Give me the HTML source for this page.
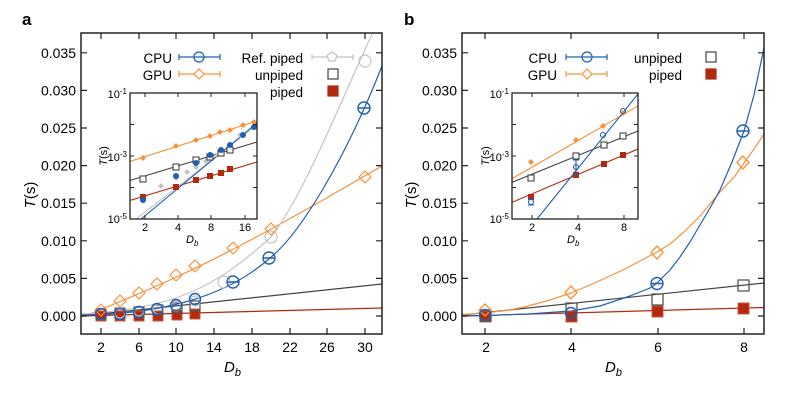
<!DOCTYPE html>
<html><head><meta charset="utf-8"><style>
html,body{margin:0;padding:0;background:#fff;}
svg{display:block;font-family:"Liberation Sans",Arial,sans-serif;}
</style></head><body>
<svg width="792" height="409" viewBox="0 0 792 409" xmlns="http://www.w3.org/2000/svg">
<defs>
<clipPath id="ca"><rect x="81" y="33" width="301" height="301"/></clipPath>
<clipPath id="cb"><rect x="462" y="33" width="302" height="301"/></clipPath>
<clipPath id="cia"><rect x="130" y="93" width="127" height="126"/></clipPath>
<clipPath id="cib"><rect x="512" y="93" width="126" height="126"/></clipPath>
</defs>

<!-- ===== Panel a ===== -->
<text x="22" y="25" font-size="17" font-weight="bold">a</text>
<g clip-path="url(#ca)" fill="none" stroke-width="1.2" stroke-linejoin="round">
  <polyline stroke="#b22a0e" points="81,316 382,308"/>
  <polyline stroke="#444" points="81,316 382,284"/>
  <path stroke="#f7923a" d="M82,317 C150,290 200,268 271,229 C310,208 340,190 382,166"/>
  <path stroke="#c4c4c4" d="M82,314 C170,308 210,292 270,238 C305,195 345,90 375,28"/>
  <path stroke="#1f5fb4" d="M82,315 C160,314 225,298 270,258 C300,234 345,160 382,66"/>
  <g fill="#b22a0e" stroke="#c8583f" stroke-width="1">
    <rect x="96" y="311" width="10" height="10"/><rect x="115" y="311" width="10" height="10"/><rect x="134" y="311" width="10" height="10"/>
    <rect x="153" y="311" width="10" height="10"/><rect x="172" y="310" width="10" height="10"/><rect x="190" y="309" width="10" height="10"/>
  </g>
  <g stroke="#555" stroke-width="1.2">
    <rect x="96" y="309" width="10" height="10"/><rect x="115" y="308" width="10" height="10"/><rect x="134" y="307" width="10" height="10"/>
    <rect x="153" y="305" width="10" height="10"/><rect x="172" y="303" width="10" height="10"/><rect x="190" y="301" width="10" height="10"/>
  </g>
  <g stroke="#c4c4c4" stroke-width="1.2">
    <circle cx="120" cy="313" r="5"/><circle cx="139" cy="311" r="5"/><circle cx="158" cy="309" r="5"/><circle cx="176" cy="306" r="5"/><circle cx="195" cy="301" r="5"/>
    <circle cx="224" cy="282" r="6"/><circle cx="271" cy="237" r="6"/><circle cx="365" cy="61" r="6"/>
  </g>
  <g stroke="#f7923a" stroke-width="1.2">
    <polygon points="101,304 107,310 101,316 95,310"/><polygon points="120,295 126,301 120,307 114,301"/>
    <polygon points="139,287 145,293 139,299 133,293"/><polygon points="157,278 163,284 157,290 151,284"/>
    <polygon points="176,269 182,275 176,281 170,275"/><polygon points="195,260 201,266 195,272 189,266"/>
    <polygon points="233,242 239,248 233,254 227,248"/><polygon points="271,223 277,229 271,235 265,229"/>
    <polygon points="365,171 371,177 365,183 359,177"/>
  </g>
  <g stroke="#1f5fb4" stroke-width="1.4">
    <circle cx="101" cy="314" r="5.5"/><circle cx="120" cy="314" r="5.5"/><circle cx="139" cy="312" r="5.5"/>
    <circle cx="157" cy="309" r="5.5"/><circle cx="176" cy="305" r="5.5"/><circle cx="195" cy="299" r="5.5"/>
    <circle cx="233" cy="282" r="6"/><circle cx="269" cy="258" r="6"/><circle cx="364" cy="108" r="6"/>
    <path d="M227,282h12M263,258h12M358,108h12"/>
  </g>
</g>
<rect x="81" y="33" width="301" height="301" fill="none" stroke="#222" stroke-width="1.5"/>
<g stroke="#222" stroke-width="1.2">
  <path d="M81,316h6M81,278.4h6M81,240.8h6M81,203.2h6M81,165.6h6M81,128h6M81,90.4h6M81,52.8h6"/>
  <path d="M382,316h-6M382,278.4h-6M382,240.8h-6M382,203.2h-6M382,165.6h-6M382,128h-6M382,90.4h-6M382,52.8h-6"/>
  <path d="M101,334v-6M139,334v-6M176,334v-6M214,334v-6M252,334v-6M290,334v-6M327,334v-6M365,334v-6"/>
  <path d="M101,33v6M139,33v6M176,33v6M214,33v6M252,33v6M290,33v6M327,33v6M365,33v6"/>
</g>
<g font-size="14" text-anchor="end">
  <text x="76" y="321">0.000</text><text x="76" y="283.4">0.005</text><text x="76" y="245.8">0.010</text>
  <text x="76" y="208.2">0.015</text><text x="76" y="170.6">0.020</text><text x="76" y="133">0.025</text>
  <text x="76" y="95.4">0.030</text><text x="76" y="57.8">0.035</text>
</g>
<g font-size="14" text-anchor="middle">
  <text x="101" y="352">2</text><text x="139" y="352">6</text><text x="176" y="352">10</text><text x="214" y="352">14</text>
  <text x="252" y="352">18</text><text x="290" y="352">22</text><text x="327" y="352">26</text><text x="365" y="352">30</text>
</g>
<text x="224" y="372" font-size="15" font-style="italic">D<tspan font-size="11" dy="4">b</tspan></text>
<text transform="translate(35,195) rotate(-90)" font-size="15" text-anchor="middle"><tspan font-style="italic">T</tspan>(s)</text>

<g font-size="13.5" text-anchor="end">
  <text x="172" y="63">CPU</text><text x="172" y="80">GPU</text>
  <text x="303" y="63">Ref. piped</text><text x="303" y="80">unpiped</text><text x="303" y="97">piped</text>
</g>
<g fill="none" stroke-width="1.2">
  <path stroke="#1f5fb4" d="M179,57h41M179,54v6M220,54v6"/><circle stroke="#1f5fb4" cx="199" cy="57" r="5"/>
  <path stroke="#f7923a" d="M179,74h41M179,71v6M220,71v6"/><polygon stroke="#f7923a" fill="#fff" points="199,69 204,74 199,79 194,74"/>
  <path stroke="#c4c4c4" d="M312,57h41M312,54v6M353,54v6"/><polygon stroke="#c4c4c4" fill="#fff" points="332,52 337,55.5 335,61 329,61 327,55.5"/>
  <rect x="328" y="69" width="10" height="10" stroke="#444"/>
  <rect x="328" y="86" width="10" height="10" fill="#b22a0e" stroke="#b22a0e"/>
</g>

<rect x="130" y="93" width="127" height="126" fill="#fff"/>
<g clip-path="url(#cia)" stroke-width="1.1">
  <polyline fill="none" stroke="#f7923a" points="128,162 257,121"/>
  <polyline fill="none" stroke="#444" points="128,181 257,142"/>
  <polyline fill="none" stroke="#b22a0e" points="128,201 257,162"/>
  <polyline fill="none" stroke="#c4c4c4" points="136,219 257,125"/>
  <polyline fill="none" stroke="#1f5fb4" points="141,219 257,123"/>
  <g fill="#f7923a"><path d="M143,155l3,3l-3,3l-3,-3z M176,143l3,3l-3,3l-3,-3z M196,137l3,3l-3,3l-3,-3z M210,133l3,3l-3,3l-3,-3z M220,129l3,3l-3,3l-3,-3z M230,127l3,3l-3,3l-3,-3z M243,122l3,3l-3,3l-3,-3z M254,119l3,3l-3,3l-3,-3z"/></g>
  <g fill="#c4c4c4"><path d="M161,183l3,3l-3,3l-3,-3z M176,175l3,3l-3,3l-3,-3z M187,169l3,3l-3,3l-3,-3z M196,164l3,3l-3,3l-3,-3z M206,158l3,3l-3,3l-3,-3z M218,152l3,3l-3,3l-3,-3z M240,132l3,3l-3,3l-3,-3z"/></g>
  <g fill="#fff" stroke="#444"><rect x="140" y="176" width="6" height="6"/><rect x="173" y="164" width="6" height="6"/><rect x="193" y="157" width="6" height="6"/><rect x="207" y="154" width="6" height="6"/><rect x="218" y="150" width="6" height="6"/><rect x="227" y="147" width="6" height="6"/></g>
  <g fill="#b22a0e"><rect x="140" y="194" width="6" height="6"/><rect x="173" y="184" width="6" height="6"/><rect x="193" y="177" width="6" height="6"/><rect x="207" y="173" width="6" height="6"/><rect x="218" y="170" width="6" height="6"/><rect x="227" y="166" width="6" height="6"/></g>
  <g fill="#1f5fb4"><circle cx="143" cy="200" r="3"/><circle cx="176" cy="176" r="3"/><circle cx="196" cy="163" r="3"/><circle cx="210" cy="155" r="3"/><circle cx="221" cy="150" r="3"/><circle cx="230" cy="145" r="3"/><circle cx="243" cy="135" r="3"/><circle cx="254" cy="127" r="3"/></g>
</g>
<rect x="130" y="93" width="127" height="126" fill="none" stroke="#222" stroke-width="1.3"/>
<g stroke="#222" stroke-width="1">
  <path d="M130,124.5h4M130,156h4M130,187.5h4M257,124.5h-4M257,156h-4M257,187.5h-4"/>
  <path d="M145,219v-4M178,219v-4M211,219v-4M245,219v-4M145,93v4M178,93v4M211,93v4M245,93v4"/>
</g>
<g font-size="11" text-anchor="end">
  <text x="127" y="98">10<tspan font-size="8" dy="-4">-1</tspan></text>
  <text x="127" y="161">10<tspan font-size="8" dy="-4">-3</tspan></text>
  <text x="127" y="223">10<tspan font-size="8" dy="-4">-5</tspan></text>
</g>
<g font-size="11" text-anchor="middle">
  <text x="145" y="231">2</text><text x="178" y="231">4</text><text x="211" y="231">8</text><text x="245" y="231">16</text>
</g>
<text x="186" y="243" font-size="11" font-style="italic">D<tspan font-size="8" dy="3">b</tspan></text>
<text transform="translate(107,156) rotate(-90)" font-size="11" text-anchor="middle"><tspan font-style="italic">T</tspan>(s)</text>

<!-- ===== Panel b ===== -->
<text x="404" y="25" font-size="17" font-weight="bold">b</text>
<g clip-path="url(#cb)" fill="none" stroke-width="1.2" stroke-linejoin="round">
  <polyline stroke="#b22a0e" points="462,316 764,307.5"/>
  <polyline stroke="#444" points="462,315 764,283"/>
  <polyline stroke="#f7923a" points="462,314.5 485,313 510,310 528,306 550,300 571,293 590,285 610,276 625,269 640,261 657,252 670,244 685,231 700,216 720,192 735,176 744,163 754,149 764,134"/>
  <polyline stroke="#1f5fb4" points="462,316 485,315.5 528,314 571,311 600,306 615,301 630,296 640,292 650,288 657,283 670,270 680,257 690,242 700,225 710,208 720,190 732,162 744,131 754,95 764,48"/>
  <g fill="#b22a0e" stroke="#c8583f" stroke-width="1">
    <rect x="480" y="311" width="11" height="11"/><rect x="566" y="311" width="11" height="11"/>
    <rect x="652" y="306" width="11" height="11"/><rect x="738" y="303" width="11" height="11"/>
  </g>
  <g stroke="#555" stroke-width="1.3">
    <rect x="480" y="310" width="11" height="11"/><rect x="566" y="303" width="11" height="11"/>
    <rect x="652" y="294" width="11" height="11"/><rect x="738" y="280" width="11" height="11"/>
  </g>
  <g stroke="#f7923a" stroke-width="1.3">
    <polygon points="485,304 491,310 485,316 479,310"/><polygon points="571,286 577,292.5 571,299 565,292.5"/>
    <polygon points="657,246 663,252.5 657,259 651,252.5"/><polygon points="743,156 749,162.5 743,169 737,162.5"/>
  </g>
  <g stroke="#1f5fb4" stroke-width="1.4">
    <circle cx="485" cy="315" r="5.5"/><circle cx="571" cy="313" r="5.5"/>
    <circle cx="657" cy="283.5" r="6"/><circle cx="743" cy="131" r="6"/>
    <path d="M651,283.5h12M737,131h12"/>
  </g>
</g>
<rect x="462" y="33" width="302" height="301" fill="none" stroke="#222" stroke-width="1.5"/>
<g stroke="#222" stroke-width="1.2">
  <path d="M462,316h6M462,278.4h6M462,240.8h6M462,203.2h6M462,165.6h6M462,128h6M462,90.4h6M462,52.8h6"/>
  <path d="M764,316h-6M764,278.4h-6M764,240.8h-6M764,203.2h-6M764,165.6h-6M764,128h-6M764,90.4h-6M764,52.8h-6"/>
  <path d="M485,334v-6M571,334v-6M658,334v-6M744,334v-6M485,33v6M571,33v6M658,33v6M744,33v6"/>
</g>
<g font-size="14" text-anchor="end">
  <text x="457" y="321">0.000</text><text x="457" y="283.4">0.005</text><text x="457" y="245.8">0.010</text>
  <text x="457" y="208.2">0.015</text><text x="457" y="170.6">0.020</text><text x="457" y="133">0.025</text>
  <text x="457" y="95.4">0.030</text><text x="457" y="57.8">0.035</text>
</g>
<g font-size="14" text-anchor="middle">
  <text x="486" y="352">2</text><text x="572" y="352">4</text><text x="658" y="352">6</text><text x="744" y="352">8</text>
</g>
<text x="605" y="372" font-size="15" font-style="italic">D<tspan font-size="11" dy="4">b</tspan></text>
<text transform="translate(416,195) rotate(-90)" font-size="15" text-anchor="middle"><tspan font-style="italic">T</tspan>(s)</text>

<g font-size="13.5" text-anchor="end">
  <text x="557" y="63">CPU</text><text x="557" y="80">GPU</text>
  <text x="682" y="63">unpiped</text><text x="682" y="80">piped</text>
</g>
<g fill="none" stroke-width="1.2">
  <path stroke="#1f5fb4" d="M566,57h41M566,54v6M607,54v6"/><circle stroke="#1f5fb4" cx="587" cy="57" r="5"/>
  <path stroke="#f7923a" d="M566,74h41M566,71v6M607,71v6"/><polygon stroke="#f7923a" fill="#fff" points="587,69 592,74 587,79 582,74"/>
  <rect x="706" y="52" width="10" height="10" stroke="#444"/>
  <rect x="706" y="69" width="10" height="10" fill="#b22a0e" stroke="#b22a0e"/>
</g>

<rect x="512" y="93" width="126" height="126" fill="#fff"/>
<g clip-path="url(#cib)" stroke-width="1.1">
  <polyline fill="none" stroke="#f7923a" points="508,181 638,106"/>
  <polyline fill="none" stroke="#444" points="508,184 638,131"/>
  <polyline fill="none" stroke="#b22a0e" points="508,204 638,149"/>
  <polyline fill="none" stroke="#1f5fb4" points="537,219 638,94"/>
  <g fill="#f7923a"><path d="M531,159l3,3l-3,3l-3,-3z M576,137l3,3l-3,3l-3,-3z M603,123l3,3l-3,3l-3,-3z M623,110l3,3l-3,3l-3,-3z"/></g>
  <g fill="#fff" stroke="#444"><rect x="528" y="175" width="6" height="6"/><rect x="573" y="153" width="6" height="6"/><rect x="601" y="142" width="6" height="6"/><rect x="620" y="133" width="6" height="6"/></g>
  <g fill="#b22a0e"><rect x="528" y="194" width="6" height="6"/><rect x="573" y="172" width="6" height="6"/><rect x="601" y="161" width="6" height="6"/><rect x="620" y="152" width="6" height="6"/></g>
  <g fill="none" stroke="#1f5fb4"><circle cx="531" cy="202" r="2.5"/><circle cx="576" cy="167" r="2.5"/><circle cx="603" cy="135" r="2.5"/><circle cx="623" cy="111" r="2.5"/><path d="M528,199h6M528,205h6M573,160h6M573,175h6M576,160v15"/></g>
</g>
<rect x="512" y="93" width="126" height="126" fill="none" stroke="#222" stroke-width="1.3"/>
<g stroke="#222" stroke-width="1">
  <path d="M512,124.5h4M512,156h4M512,187.5h4M638,124.5h-4M638,156h-4M638,187.5h-4"/>
  <path d="M532,219v-4M578,219v-4M624,219v-4M532,93v4M578,93v4M624,93v4"/>
</g>
<g font-size="11" text-anchor="end">
  <text x="509" y="98">10<tspan font-size="8" dy="-4">-1</tspan></text>
  <text x="509" y="161">10<tspan font-size="8" dy="-4">-3</tspan></text>
  <text x="509" y="223">10<tspan font-size="8" dy="-4">-5</tspan></text>
</g>
<g font-size="11" text-anchor="middle">
  <text x="532" y="231">2</text><text x="578" y="231">4</text><text x="624" y="231">8</text>
</g>
<text x="567" y="243" font-size="11" font-style="italic">D<tspan font-size="8" dy="3">b</tspan></text>
<text transform="translate(489,156) rotate(-90)" font-size="11" text-anchor="middle"><tspan font-style="italic">T</tspan>(s)</text>
</svg>
</body></html>
